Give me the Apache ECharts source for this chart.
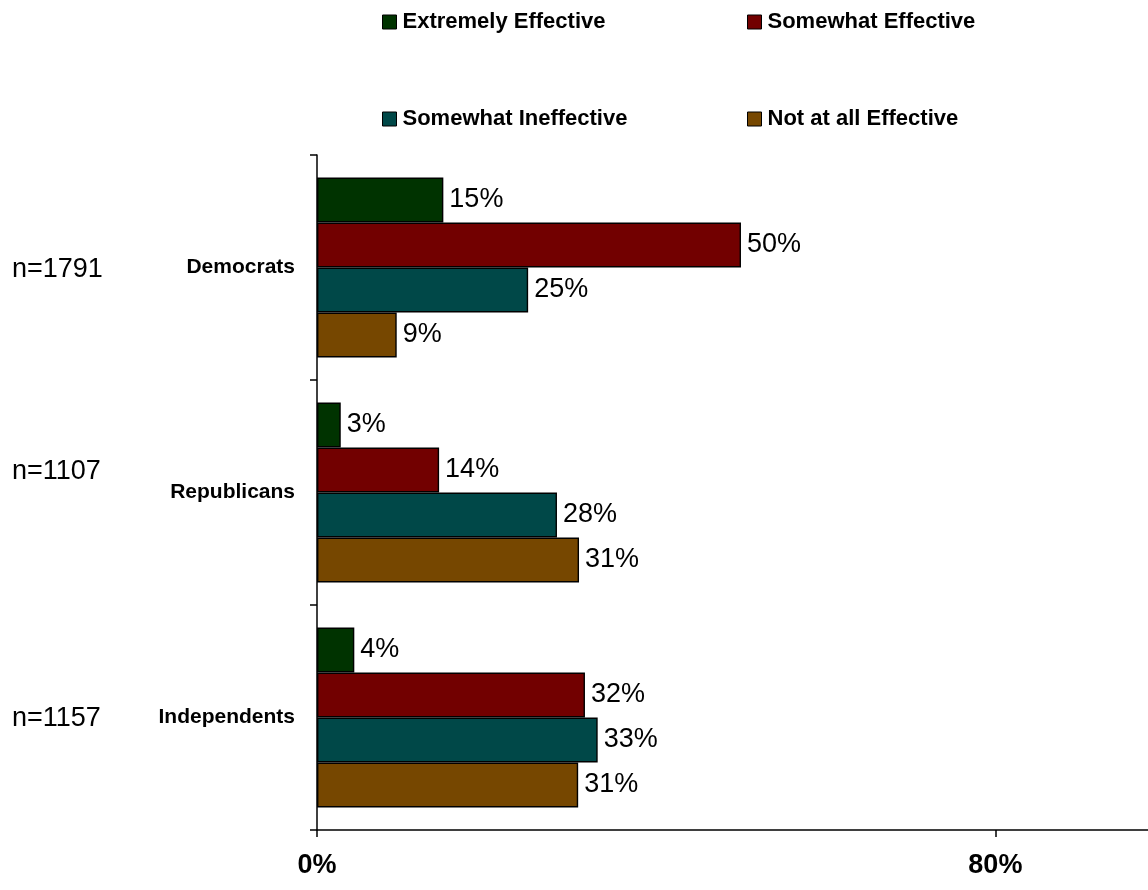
<!DOCTYPE html>
<html>
<head>
<meta charset="utf-8">
<script src="https://cdn.jsdelivr.net/npm/echarts@6/dist/echarts.min.js"></script>
<style>html,body{margin:0;padding:0;background:#fff;}#main{width:1148px;height:890px;}</style>
</head>
<body>
<div id="main"></div>
<script>
const categories = ['Democrats', 'Republicans', 'Independents'];
const sampleSizes = ['n=1791', 'n=1107', 'n=1157'];
const seriesNames = ['Extremely Effective', 'Somewhat Effective', 'Somewhat Ineffective', 'Not at all Effective'];
// bar lengths (labels show rounded percentages)
const extremelyEffective = [14.9, 2.8, 4.4];
const somewhatEffective = [50, 14.4, 31.6];
const somewhatIneffective = [24.9, 28.3, 33.1];
const notAtAllEffective = [9.4, 30.9, 30.8];
const xTicks = [0, 80];

const colors = ['#003300', '#720000', '#004848', '#764700'];
const values = [extremelyEffective, somewhatEffective, somewhatIneffective, notAtAllEffective];
const FONT = '"Liberation Sans", Arial, sans-serif';

const chart = echarts.init(document.getElementById('main'));

const legendPos = [
  {left: 377, top: 6},
  {left: 742, top: 6},
  {left: 377, top: 103},
  {left: 742, top: 103}
];
const legends = seriesNames.map((n, i) => ({
  data: [n],
  left: legendPos[i].left,
  top: legendPos[i].top,
  itemWidth: 14,
  itemHeight: 14,
  itemGap: 0,
  icon: 'rect',
  selectedMode: false,
  textStyle: {fontFamily: FONT, fontWeight: 'bold', fontSize: 22, color: '#000', padding: [0, 0, 0, 1]},
  itemStyle: {borderColor: '#000', borderWidth: 1}
}));

const nY = [271, 473, 720];

chart.setOption({
  animation: false,
  backgroundColor: '#fff',
  legend: legends,
  grid: {left: 317, right: 0, top: 155, bottom: 60, containLabel: false},
  xAxis: {
    type: 'value', min: 0, max: 98, interval: 80,
    axisLine: {show: true, lineStyle: {color: '#000', width: 1.5}},
    axisTick: {show: true, length: 7, lineStyle: {color: '#000', width: 1.5}, customValues: xTicks},
    splitLine: {show: false},
    axisLabel: {
      customValues: xTicks,
      margin: 22,
      fontFamily: FONT, fontWeight: 'bold', fontSize: 27, color: '#000',
      formatter: v => (xTicks.indexOf(v) >= 0 ? v + '%' : '')
    }
  },
  yAxis: {
    type: 'category', data: categories, inverse: true,
    axisLine: {show: true, lineStyle: {color: '#000', width: 1.5}},
    axisTick: {show: true, length: 7, lineStyle: {color: '#000', width: 1.5}},
    axisLabel: {margin: 22, fontFamily: FONT, fontWeight: 'bold', fontSize: 21, color: '#000'}
  },
  graphic: sampleSizes.map((t, i) => ({
    type: 'text', left: 12, top: nY[i] - 15,
    style: {text: t, font: '27px ' + FONT, fill: '#000'}
  })),
  series: seriesNames.map((n, i) => ({
    name: n, type: 'bar', data: values[i],
    barGap: '0%', barCategoryGap: '20%',
    itemStyle: {color: colors[i], borderColor: '#000', borderWidth: 1.4},
    label: {show: true, position: 'right', distance: 6, formatter: p => Math.round(p.value) + '%', fontFamily: FONT, fontSize: 27, color: '#000'}
  }))
});
</script>
</body>
</html>
